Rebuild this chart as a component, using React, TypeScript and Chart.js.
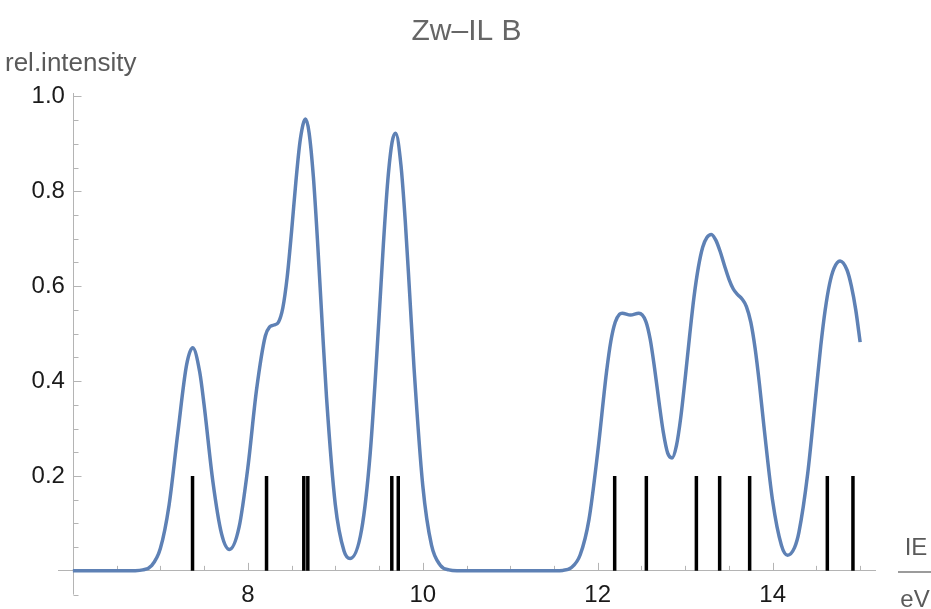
import React, { useEffect, useRef } from "react";
import { Chart, registerables } from "chart.js";

Chart.register(...registerables);

// ---- text ----
const titleText = "Zw–IL B";
const yAxisLabel = "rel.intensity";
const xAxisLabelTop = "IE";
const xAxisLabelBottom = "eV";

// ---- convoluted spectrum ----
const curveX = [
  6.0, 6.5, 6.7, 6.8, 6.9, 7.0, 7.1, 7.2, 7.3, 7.37, 7.45, 7.5, 7.6, 7.7, 7.79, 7.9,
  8.0, 8.1, 8.2, 8.25, 8.3, 8.35, 8.4, 8.45, 8.5, 8.55, 8.6, 8.66, 8.7, 8.75, 8.8, 8.85,
  8.9, 9.0, 9.1, 9.17, 9.3, 9.4, 9.5, 9.55, 9.6, 9.65, 9.69, 9.75, 9.8, 9.85, 9.9, 10.0,
  10.1, 10.2, 10.3, 10.4, 10.6, 11.4, 11.6, 11.7, 11.8, 11.9, 12.0, 12.1, 12.15, 12.2,
  12.25, 12.28, 12.375, 12.47, 12.55, 12.6, 12.65, 12.7, 12.75, 12.8, 12.85, 12.9, 12.95,
  13.0, 13.05, 13.1, 13.15, 13.2, 13.25, 13.3, 13.35, 13.4, 13.45, 13.5, 13.55, 13.6,
  13.65, 13.7, 13.75, 13.8, 13.85, 13.9, 14.0, 14.1, 14.17, 14.25, 14.3, 14.4, 14.5,
  14.55, 14.6, 14.65, 14.7, 14.77, 14.85, 14.9, 14.95, 15.0,
];
const curveY = [
  0, 0, 0.0003, 0.002, 0.011, 0.047, 0.139, 0.291, 0.434, 0.47, 0.419, 0.35, 0.189, 0.078, 0.045, 0.092,
  0.217, 0.382, 0.495, 0.514, 0.518, 0.524, 0.554, 0.619, 0.715, 0.821, 0.909, 0.952, 0.924, 0.829, 0.685, 0.521,
  0.365, 0.14, 0.042, 0.026, 0.086, 0.25, 0.533, 0.689, 0.822, 0.904, 0.922, 0.856, 0.737, 0.585, 0.428, 0.18,
  0.054, 0.012, 0.002, 0.0002, 0, 0, 0.001, 0.007, 0.034, 0.108, 0.25, 0.418, 0.484, 0.524,
  0.541, 0.543, 0.539, 0.543, 0.526, 0.488, 0.427, 0.357, 0.292, 0.248, 0.238, 0.264, 0.324,
  0.406, 0.494, 0.576, 0.639, 0.682, 0.703, 0.709, 0.697, 0.673, 0.643, 0.615, 0.594, 0.582,
  0.573, 0.557, 0.524, 0.468, 0.392, 0.305, 0.147, 0.054, 0.033, 0.049, 0.081, 0.204, 0.384,
  0.474, 0.549, 0.604, 0.637, 0.653, 0.634, 0.6, 0.55, 0.482,
];

// ---- stick spectrum (ionisation energies, eV) ----
const stickX = [
  7.368, 8.214, 8.64, 8.686, 9.646, 9.72, 12.194, 12.556, 13.128, 13.394, 13.737, 14.625, 14.918,
];
const stickHeight = 0.2;

// ---- axes ----
const xMin = 5.83;
const xMax = 15.17;
const yMin = -0.05;
const yMax = 1.007;
const xOrigin = 6;
const yLabelAnchor = 5.909; // where the y tick labels end (a little left of the axis)
const xMajorTicks = [8, 10, 12, 14];
const yMajorTicks = [0.2, 0.4, 0.6, 0.8, 1.0];
const xMinorStep = 0.5;
const yMinorStep = 0.05;

const FONT = "'Liberation Sans', Arial, Helvetica, sans-serif";
const AXIS_COLOR = "#b4b4b4";
const CURVE_COLOR = "#5e81b5";
const LABEL_COLOR = "#5a5a5a";
const TICK_COLOR = "#1a1a1a";

const isMajor = (v: number, list: number[]) =>
  list.some((m) => Math.abs(m - v) < 1e-6);

const mmaPlugin = {
  id: "mmaDecor",
  beforeDatasetsDraw(chart: any) {
    const { ctx, chartArea } = chart;
    const xs = chart.scales.x;
    const ys = chart.scales.y;
    const ax = Math.round(xs.getPixelForValue(xOrigin)) + 0.5;
    const ay = ys.getPixelForValue(0);
    ctx.save();
    ctx.strokeStyle = AXIS_COLOR;
    ctx.lineWidth = 1;
    ctx.beginPath();
    // y axis line
    ctx.moveTo(ax, chartArea.top);
    ctx.lineTo(ax, chartArea.bottom);
    xs.ticks.forEach((t: any) => {
      if (Math.abs(t.value - xOrigin) < 1e-6) return;
      const px = Math.round(xs.getPixelForValue(t.value)) + 0.5;
      const len = isMajor(t.value, xMajorTicks) ? 8 : 5;
      ctx.moveTo(px, ay);
      ctx.lineTo(px, ay - len);
    });
    ys.ticks.forEach((t: any) => {
      if (Math.abs(t.value) < 1e-6) return;
      const py = Math.round(ys.getPixelForValue(t.value)) + 0.5;
      const len = isMajor(Math.round(t.value * 100) / 100, yMajorTicks) ? 8 : 5;
      ctx.moveTo(ax, py);
      ctx.lineTo(ax + len, py);
    });
    ctx.stroke();
    ctx.restore();
  },
  afterDraw(chart: any) {
    const { ctx } = chart;
    ctx.save();
    ctx.fillStyle = LABEL_COLOR;
    ctx.font = `26px ${FONT}`;
    ctx.textBaseline = "alphabetic";
    ctx.textAlign = "left";
    ctx.fillText(yAxisLabel, 5, 71);
    ctx.textAlign = "center";
    ctx.font = `24px ${FONT}`;
    ctx.fillText(xAxisLabelTop, 916, 555);
    ctx.fillText(xAxisLabelBottom, 915, 607);
    ctx.strokeStyle = "#7a7a7a";
    ctx.lineWidth = 1.5;
    ctx.beginPath();
    ctx.moveTo(898, 572);
    ctx.lineTo(931, 572);
    ctx.stroke();
    ctx.restore();
  },
};

export default function App() {
  const canvasRef = useRef<HTMLCanvasElement | null>(null);

  useEffect(() => {
    if (!canvasRef.current) return;
    const curveData = curveX.map((x, i) => ({ x, y: curveY[i] }));
    const stickData: { x: number; y: number | null }[] = [];
    stickX.forEach((x) => {
      stickData.push({ x, y: 0 }, { x, y: stickHeight }, { x, y: null });
    });

    const chart = new Chart(canvasRef.current, {
      type: "line",
      data: {
        datasets: [
          {
            label: "sticks",
            data: stickData as any,
            borderColor: "#000000",
            borderWidth: 3.5,
            borderCapStyle: "butt",
            pointRadius: 0,
            spanGaps: false,
            order: 0,
          },
          {
            label: "spectrum",
            data: curveData,
            borderColor: CURVE_COLOR,
            borderWidth: 3.5,
            pointRadius: 0,
            cubicInterpolationMode: "monotone",
            order: 1,
          },
        ],
      },
      options: {
        animation: false,
        responsive: true,
        maintainAspectRatio: false,
        layout: { padding: { left: 58, right: 56, top: 0, bottom: 14 } },
        plugins: {
          legend: { display: false },
          tooltip: { enabled: false },
          title: {
            display: true,
            text: titleText,
            color: "#666666",
            font: { family: FONT, size: 30, weight: "normal" },
            padding: { top: 14, bottom: 43 },
          },
        },
        scales: {
          x: {
            type: "linear",
            position: { y: 0 } as any,
            min: xMin,
            max: xMax,
            grid: { display: true, drawOnChartArea: false, drawTicks: false },
            border: { display: true, color: AXIS_COLOR, width: 1 },
            ticks: {
              stepSize: xMinorStep,
              includeBounds: false,
              autoSkip: false,
              maxRotation: 0,
              minRotation: 0,
              padding: 10.5,
              color: TICK_COLOR,
              font: { family: FONT, size: 24 },
              callback: (v: any) => (isMajor(Number(v), xMajorTicks) ? String(Math.round(Number(v))) : ""),
            },
          },
          y: {
            type: "linear",
            position: { x: yLabelAnchor } as any,
            min: yMin,
            max: yMax,
            grid: { display: true, drawOnChartArea: false, drawTicks: false },
            border: { display: false },
            ticks: {
              stepSize: yMinorStep,
              includeBounds: false,
              autoSkip: false,
              padding: 0,
              color: TICK_COLOR,
              font: { family: FONT, size: 24 },
              callback: (v: any) => {
                const r = Math.round(Number(v) * 100) / 100;
                return isMajor(r, yMajorTicks) ? r.toFixed(1) : "";
              },
            },
          },
        },
      },
      plugins: [mmaPlugin],
    });
    return () => chart.destroy();
  }, []);

  return (
    <div style={{ position: "fixed", left: 0, top: 0, width: 931, height: 609, background: "#fff" }}>
      <canvas ref={canvasRef} />
    </div>
  );
}
